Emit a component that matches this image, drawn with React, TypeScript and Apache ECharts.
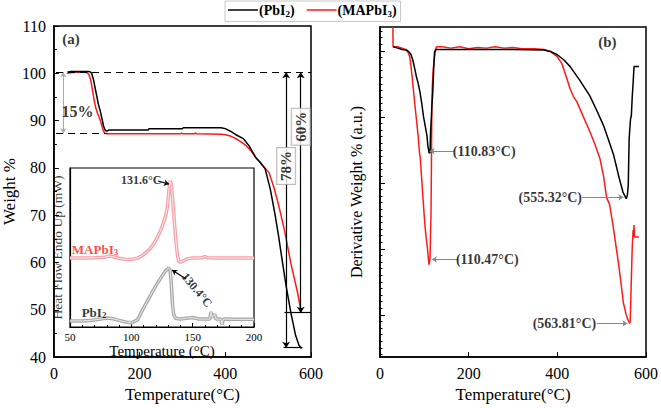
import React, { useEffect, useRef } from "react";
import * as echarts from "echarts";

const FONT = "'Liberation Serif', 'Times New Roman', 'DejaVu Serif', serif";

// ---- TGA (a) : [temperature °C, weight %]
const tgaPbI2: [number, number][] = [
  [32, 100.3], [40, 100.4], [60, 100.4], [80, 100.4], [85, 100.3], [88, 100.0], [92, 98.8], [96, 97.0],
  [100, 95.2], [104, 93.4], [108, 92.1], [112, 90.5], [116, 88.8], [120, 87.9], [124, 87.8], [128, 88.0],
  [220, 88.0], [222, 88.3], [300, 88.3], [302, 88.5], [390, 88.5], [400, 88.3], [413, 87.7], [427, 86.9],
  [442, 86.2], [456, 84.6], [471, 82.2], [480, 81.3], [493, 79.8], [505, 75.5], [516, 70.2], [524, 65.8],
  [531, 61.5], [542, 55.0], [553, 49.4], [564, 44.6], [572, 42.5], [578, 41.8],
];
const tgaMAPbI3: [number, number][] = [
  [30, 100.0], [40, 100.1], [50, 100.2], [70, 100.2], [78, 100.1], [82, 99.7], [86, 98.5], [90, 96.5],
  [94, 94.3], [98, 92.6], [102, 91.5], [106, 90.6], [110, 89.6], [114, 88.2], [118, 87.4], [124, 87.2],
  [200, 87.2], [296, 87.2], [298, 87.4], [300, 87.2], [328, 87.2], [330, 87.4], [333, 87.2],
  [390, 87.1], [400, 87.0], [410, 86.8], [420, 86.4], [430, 85.9], [440, 85.3], [450, 84.6], [460, 83.6],
  [471, 82.2], [485, 80.8], [502, 79.0], [513, 76.0], [524, 72.3], [538, 66.9], [553, 59.8], [569, 53.5],
  [576, 50.0], [578, 49.4],
];

// ---- DSC inset : [temperature °C, heat flow (a.u.)]
const dscMAPbI3: [number, number][] = [
  [50, 43.4], [60, 43.4], [70, 43.6], [78, 43.8], [82, 44.6], [86, 44.0], [90, 43.2], [95, 42.6], [100, 42.5],
  [105, 43.2], [110, 45.5], [115, 49], [118, 52], [121, 56], [124, 61], [126, 65], [128, 70], [129.5, 76],
  [130.5, 85], [131.6, 92], [132.5, 90], [133.5, 82], [134.5, 72], [135.5, 62], [136.5, 53], [137.5, 46],
  [138.5, 41.5], [140, 40.8], [143, 41.8], [146, 43], [150, 43.4], [158, 43.6], [160, 44.3], [162, 43.6],
  [170, 43.4], [200, 43.4],
];
const dscPbI2: [number, number][] = [
  [50, 3.8], [60, 3.8], [68, 4.3], [75, 5.0], [80, 5.6], [85, 5.2], [90, 4.2], [95, 3.2], [100, 2.6],
  [105, 4.5], [110, 12], [115, 19], [120, 26], [125, 32], [128, 35.5], [130.4, 37], [131.5, 36], [132.5, 28],
  [133.5, 15], [134.5, 8], [136, 5.5], [140, 5], [145, 5.5], [150, 6], [155, 5], [164, 5], [165, 9.5],
  [166, 6], [168, 8], [169, 5], [173, 5], [174, 1.5], [175, 5], [185, 4.8], [200, 4.8],
];

// ---- DTG (b) : [temperature °C, derivative weight (a.u.)]
const dtgPbI2: [number, number][] = [
  [30, 4.70], [40, 4.68], [50, 4.66], [60, 4.65], [66, 4.62], [70, 4.58], [74, 4.50], [78, 4.38], [82, 4.25],
  [86, 4.15], [90, 4.02], [94, 3.85], [98, 3.65], [102, 3.50], [106, 3.35], [108, 3.20], [110.83, 3.09],
  [113, 3.10], [114, 3.40], [116, 3.65], [117, 3.80], [119, 4.0], [121, 4.35], [123, 4.62], [126, 4.66],
  [200, 4.66], [300, 4.66], [370, 4.65], [384, 4.63], [400, 4.58], [415, 4.50], [429, 4.40], [450, 4.20],
  [473, 3.96], [490, 3.72], [504, 3.51], [515, 3.30], [527, 3.06], [540, 2.70], [548, 2.50], [555.32, 2.40],
  [558, 2.45], [560, 2.61], [562, 3.31], [565, 3.60], [567, 3.66], [569, 3.95], [571, 4.16], [573, 4.40],
  [584, 4.40],
];
const dtgMAPbI3: [number, number][] = [
  [29, 5.0], [29.5, 4.70], [40, 4.70], [50, 4.68], [58, 4.66], [63, 4.62], [67, 4.55], [70, 4.40], [73, 4.21],
  [76, 4.00], [79, 3.80], [82, 3.61], [86, 3.35], [89, 3.10], [91, 3.01], [94, 2.70], [97, 2.40], [100, 2.12],
  [102, 1.95], [104, 1.82], [107, 1.65], [109, 1.50], [110.47, 1.40], [112, 1.45], [113, 1.52], [114, 1.90],
  [115, 2.12], [116, 2.90], [117, 3.87], [118, 4.10], [120, 4.36], [124, 4.60], [127, 4.70], [140, 4.70],
  [160, 4.68], [180, 4.70], [200, 4.67], [220, 4.69], [240, 4.68], [260, 4.70], [280, 4.68], [300, 4.69],
  [320, 4.67], [350, 4.67], [370, 4.66], [384, 4.63], [400, 4.55], [410, 4.45], [422, 4.21], [429, 4.06],
  [436, 3.95], [444, 3.87], [458, 3.65], [473, 3.42], [485, 3.22], [496, 3.01], [504, 2.75], [511, 2.42],
  [518, 2.31], [527, 1.93], [533, 1.65], [538, 1.42], [544, 1.10], [549, 0.82], [555, 0.65], [560, 0.55],
  [563.81, 0.51], [565, 0.67], [567, 1.20], [569, 1.67], [571, 1.93], [572, 1.82], [573, 2.00], [574, 1.82],
  [584, 1.82],
];

// tick labels / ranges
const tgaXTicks = [0, 600, 200];
const tgaYTicks = [40, 110, 10];
const dscXTicks = [50, 200, 50];
const dtgMajorTicks = [0.64, 1.64, 2.64, 3.64, 4.64];

const ann = (value: [number, number], text: string, extra: any = {}) => ({
  value,
  label: { show: true, position: "inside", formatter: text, color: "#000", fontFamily: FONT, ...extra },
});

export default function App() {
  const ref = useRef<HTMLDivElement>(null);
  useEffect(() => {
    if (!ref.current) return;
    const chart = echarts.init(ref.current, null, { renderer: "svg" });
    const dtgMinor: number[] = [];
    for (let k = 0; k < 50; k++) {
      const v = Math.round((0.04 + k * 0.1) * 100) / 100;
      if (!dtgMajorTicks.some((m) => Math.abs(m - v) < 0.001)) dtgMinor.push(v);
    }
    const axisBase = {
      axisLine: { lineStyle: { color: "#000", width: 1.5 } },
      splitLine: { show: false },
      axisLabel: { color: "#000", fontSize: 16, fontFamily: FONT },
      nameTextStyle: { color: "#000", fontSize: 17, fontFamily: FONT },
    };
    const dashed = { color: "#000", type: [7, 5] as any, width: 1.2 };
    const option: any = {
      animation: false,
      textStyle: { fontFamily: FONT },
      legend: {
        left: 225,
        top: 1,
        padding: [2, 4, 3, 3],
        borderColor: "#c8c8c8",
        borderWidth: 1,
        itemWidth: 30,
        itemHeight: 1.5,
        itemGap: 12,
        data: [
          { name: "PbI2", icon: "rect" },
          { name: "MAPbI3", icon: "rect" },
        ],
        formatter: (n: string) => (n === "PbI2" ? "(PbI{s|2})" : "(MAPbI{s|3})"),
        textStyle: {
          fontFamily: FONT,
          fontSize: 14,
          fontWeight: "bold",
          color: "#000",
          padding: [0, 0, 0, -4],
          rich: { s: { fontSize: 9, fontWeight: "bold", fontFamily: FONT, padding: [8, 0, 0, 0] } },
        },
      },
      grid: [
        { left: 41, top: 26, width: 270, height: 336, show: true, borderColor: "#000", borderWidth: 1.5 },
        { left: 70, top: 168, width: 184, height: 159, show: true, borderColor: "#000", borderWidth: 1.2, backgroundColor: "#fff" },
        { left: 380, top: 27, width: 270, height: 335, show: true, borderColor: "#000", borderWidth: 1.5 },
      ],
      xAxis: [
        {
          ...axisBase, gridIndex: 0, type: "value", min: tgaXTicks[0], max: tgaXTicks[1], interval: tgaXTicks[2],
          axisTick: { inside: true, length: 5, lineStyle: { color: "#000" } },
          name: "Temperature(°C)", nameLocation: "middle", nameGap: 22,
        },
        {
          ...axisBase, gridIndex: 1, type: "value", min: dscXTicks[0], max: dscXTicks[1], interval: dscXTicks[2],
          axisLine: { lineStyle: { color: "#000", width: 1.2 } },
          axisTick: { inside: true, length: 4, lineStyle: { color: "#000" } },
          minorTick: { show: true, splitNumber: 5, length: 2, lineStyle: { color: "#000" } },
          axisLabel: { color: "#000", fontSize: 11, fontFamily: FONT, margin: 4 },
          name: "Temperature (°C)", nameLocation: "middle", nameGap: 16,
          nameTextStyle: { color: "#000", fontSize: 15, fontFamily: FONT },
        },
        {
          ...axisBase, gridIndex: 2, type: "value", min: tgaXTicks[0], max: tgaXTicks[1], interval: tgaXTicks[2],
          axisTick: { inside: true, length: 5, lineStyle: { color: "#000" } },
          name: "Temperature(°C)", nameLocation: "middle", nameGap: 22,
        },
      ],
      yAxis: [
        {
          ...axisBase, gridIndex: 0, type: "value", min: tgaYTicks[0], max: tgaYTicks[1], interval: tgaYTicks[2],
          axisTick: { inside: true, length: 5, lineStyle: { color: "#000" } },
          minorTick: { show: true, splitNumber: 2, length: 3, lineStyle: { color: "#000" } },
          name: "Weight %", nameLocation: "middle", nameGap: 24,
        },
        {
          ...axisBase, gridIndex: 1, type: "value", min: 0, max: 100,
          axisLine: { lineStyle: { color: "#000", width: 1.2 } },
          axisTick: { show: false }, axisLabel: { show: false },
        },
        {
          ...axisBase, gridIndex: 2, type: "value", min: 0, max: 5,
          axisTick: { inside: true, length: 5, customValues: dtgMajorTicks, lineStyle: { color: "#000" } },
          axisLabel: { show: false },
          name: "Derivative Weight % (a.u.)", nameLocation: "middle", nameGap: 16,
          nameTextStyle: { color: "#000", fontSize: 16, fontFamily: FONT },
        },
        {
          gridIndex: 2, type: "value", min: 0, max: 5, position: "left",
          axisLine: { show: false }, splitLine: { show: false }, axisLabel: { show: false },
          axisTick: { show: true, inside: true, length: 2.5, customValues: dtgMinor, lineStyle: { color: "#000" } },
        },
      ],
      series: [
        {
          name: "PbI2", type: "line", xAxisIndex: 0, yAxisIndex: 0, data: tgaPbI2, symbol: "none",
          lineStyle: { color: "#000", width: 1.5 }, itemStyle: { color: "#000" }, z: 3,
          markLine: {
            silent: true, symbol: "none", label: { show: false }, animation: false,
            data: [
              [{ coord: [5, 100.2], lineStyle: dashed }, { coord: [600, 100.2] }],
              [{ coord: [5, 87.3], lineStyle: dashed }, { coord: [125, 87.3] }],
              [{ coord: [22, 100.2], symbol: "arrow", symbolSize: 5, lineStyle: { color: "#aaa", type: "solid", width: 1 } },
               { coord: [22, 87.3], symbol: "arrow", symbolSize: 5 }],
              [{ coord: [542, 100.2], symbol: "arrow", symbolSize: 6, lineStyle: { color: "#000", type: "solid", width: 1.2 } },
               { coord: [542, 42], symbol: "arrow", symbolSize: 6 }],
              [{ coord: [576, 100.2], symbol: "arrow", symbolSize: 6, lineStyle: { color: "#000", type: "solid", width: 1.2 } },
               { coord: [576, 49.4], symbol: "arrow", symbolSize: 6 }],
              [{ coord: [536, 42], lineStyle: { color: "#000", type: "solid", width: 1.2 } }, { coord: [580, 42] }],
              [{ coord: [538, 49.4], lineStyle: { color: "#000", type: "solid", width: 1.2 } }, { coord: [600, 49.4] }],
            ],
          },
        },
        {
          name: "MAPbI3", type: "line", xAxisIndex: 0, yAxisIndex: 0, data: tgaMAPbI3, symbol: "none",
          lineStyle: { color: "#ff1a1a", width: 1.5 }, itemStyle: { color: "#ff1a1a" }, z: 2,
        },
        {
          type: "scatter", xAxisIndex: 0, yAxisIndex: 0, symbolSize: 1, silent: true, z: 5,
          itemStyle: { color: "transparent" },
          data: [
            ann([40, 107.3], "(a)", { fontSize: 15, fontWeight: "bold" }),
            ann([55, 91.9], "15%", { fontSize: 16, fontWeight: "bold" }),
            ann([542, 80.4], "78%", { fontSize: 15, fontWeight: "bold", rotate: 90, backgroundColor: "#fff", borderColor: "#aaa", borderWidth: 1, padding: [2, 3, 1, 3] }),
            ann([576, 88.7], "60%", { fontSize: 15, fontWeight: "bold", rotate: 90, backgroundColor: "#fff", borderColor: "#aaa", borderWidth: 1, padding: [2, 3, 1, 3] }),
          ],
        },
        // inset DSC
        {
          name: "dsc-MAPbI3", type: "line", xAxisIndex: 1, yAxisIndex: 1, data: dscMAPbI3, symbol: "none",
          lineStyle: { color: "#f5a3aa", width: 3.5 }, z: 4,
        },
        {
          name: "dsc-MAPbI3-in", type: "line", xAxisIndex: 1, yAxisIndex: 1, data: dscMAPbI3, symbol: "none",
          lineStyle: { color: "#fde9eb", width: 1 }, z: 5,
        },
        {
          name: "dsc-PbI2", type: "line", xAxisIndex: 1, yAxisIndex: 1, data: dscPbI2, symbol: "none",
          lineStyle: { color: "#a9a9a9", width: 3.5 }, z: 4,
        },
        {
          name: "dsc-PbI2-in", type: "line", xAxisIndex: 1, yAxisIndex: 1, data: dscPbI2, symbol: "none",
          lineStyle: { color: "#ececec", width: 1 }, z: 5,
          markLine: {
            silent: true, symbol: ["none", "arrow"], symbolSize: 5, label: { show: false },
            lineStyle: { color: "#000", type: "solid", width: 1.2 },
            data: [
              [{ coord: [121.7, 91.8] }, { coord: [130.7, 89.9] }],
              [{ coord: [144.6, 30.2] }, { coord: [133.2, 35.8] }],
            ],
          },
        },
        {
          type: "scatter", xAxisIndex: 1, yAxisIndex: 1, symbolSize: 1, silent: true, z: 6, clip: false,
          itemStyle: { color: "transparent" },
          data: [
            ann([108, 92.5], "131.6°C", { fontSize: 12, fontWeight: "bold" }),
            ann([153.5, 23.3], "130.4°C", { fontSize: 12, fontWeight: "bold", rotate: -50 }),
            ann([70.4, 49], "MAPbI{s|3}", { fontSize: 13, fontWeight: "bold", color: "#ff1a1a", rich: { s: { fontSize: 9, fontWeight: "bold", color: "#ff1a1a", fontFamily: FONT, padding: [6, 0, 0, 0] } } }),
            ann([69.6, 9.4], "PbI{s|2}", { fontSize: 13, fontWeight: "bold", rich: { s: { fontSize: 9, fontWeight: "bold", fontFamily: FONT, padding: [6, 0, 0, 0] } } }),
            ann([40.2, 50], "Heat Flow Endo Up (mW)", { fontSize: 13.5, rotate: 90 }),
          ],
        },
        // DTG
        {
          name: "PbI2", type: "line", xAxisIndex: 2, yAxisIndex: 2, data: dtgPbI2, symbol: "none",
          lineStyle: { color: "#000", width: 1.5 }, itemStyle: { color: "#000" }, z: 3,
        },
        {
          name: "MAPbI3", type: "line", xAxisIndex: 2, yAxisIndex: 2, data: dtgMAPbI3, symbol: "none",
          lineStyle: { color: "#ff1a1a", width: 1.5 }, itemStyle: { color: "#ff1a1a" }, z: 2,
          markLine: {
            silent: true, symbol: ["none", "arrow"], symbolSize: 5, label: { show: false },
            lineStyle: { color: "#888", type: "solid", width: 1 },
            data: [
              [{ coord: [167, 3.12] }, { coord: [112, 3.12] }],
              [{ coord: [176, 1.48] }, { coord: [117, 1.48] }],
              [{ coord: [456, 2.42] }, { coord: [549, 2.42] }],
              [{ coord: [489, 0.51] }, { coord: [558, 0.51] }],
            ],
          },
        },
        {
          type: "scatter", xAxisIndex: 2, yAxisIndex: 2, symbolSize: 1, silent: true, z: 6,
          itemStyle: { color: "transparent" },
          data: [
            ann([513, 4.78], "(b)", { fontSize: 15, fontWeight: "bold" }),
            ann([235, 3.12], "(110.83°C)", { fontSize: 14, fontWeight: "bold" }),
            ann([242, 1.48], "(110.47°C)", { fontSize: 14, fontWeight: "bold" }),
            ann([384, 2.42], "(555.32°C)", { fontSize: 14, fontWeight: "bold" }),
            ann([416, 0.51], "(563.81°C)", { fontSize: 14, fontWeight: "bold" }),
          ],
        },
      ],
    };
    chart.setOption(option);
    return () => chart.dispose();
  }, []);
  return <div ref={ref} style={{ position: "absolute", left: 0, top: 0, width: 661, height: 408 }} />;
}
